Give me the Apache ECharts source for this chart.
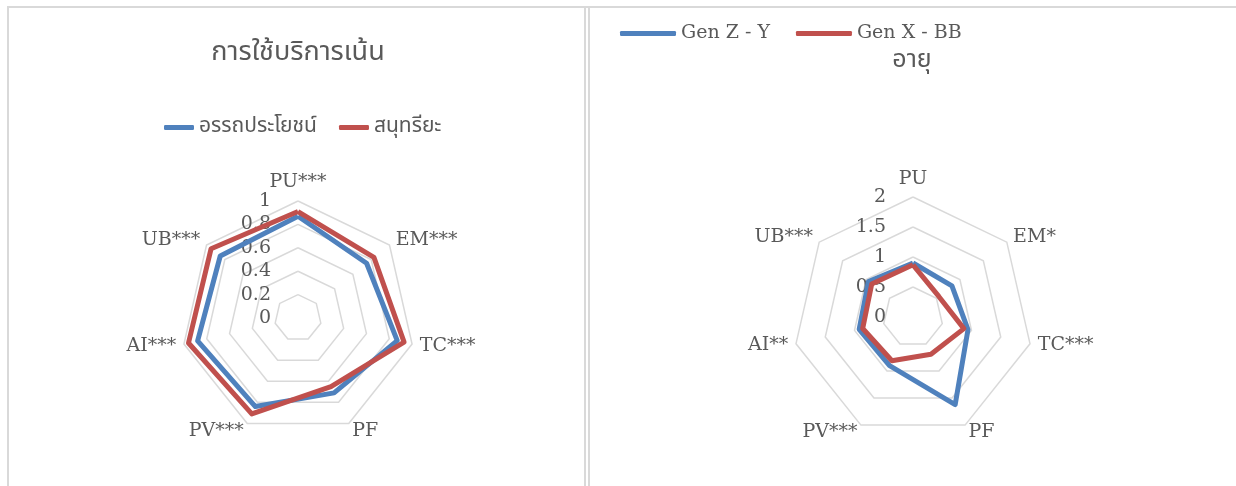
<!DOCTYPE html>
<html>
<head>
<meta charset="utf-8">
<script src="https://cdn.jsdelivr.net/npm/echarts@6/dist/echarts.min.js"></script>
<style>
html,body{margin:0;padding:0;background:#fff;}
#c{width:1236px;height:486px;}
</style>
</head>
<body>
<div id="c"></div>
<script>
// ---- data (axes listed clockwise from the top, as in the picture) ----
const axesLeft = ['PU***', 'EM***', 'TC***', 'PF', 'PV***', 'AI***', 'UB***'];
const axesRight = ['PU', 'EM*', 'TC***', 'PF', 'PV***', 'AI**', 'UB***'];
const utilitarian = [0.87, 0.75, 0.87, 0.71, 0.84, 0.88, 0.85];   // อรรถประโยชน์
const hedonic = [0.91, 0.83, 0.93, 0.65, 0.91, 0.96, 0.95];       // สนุทรียะ
const genZY = [0.90, 0.83, 0.94, 1.62, 0.90, 0.92, 0.95];         // Gen Z - Y
const genXBB = [0.87, 0.55, 0.87, 0.69, 0.81, 0.86, 0.88];        // Gen X - BB
const ticksLeft = { min: 0, max: 1, splitNumber: 5 };
const ticksRight = { min: 0, max: 2, splitNumber: 4 };

const BLUE = '#4f81bd', RED = '#c0504d', TXT = '#595959', GRID = '#d9d9d9';
const SERIF = '"DejaVu Serif", "Liberation Serif", serif';
const THAI = '"Noto Sans Thai", "Noto Sans", "DejaVu Sans", sans-serif';

// ECharts places indicators counter-clockwise; reorder so they run clockwise
const order = [0, 6, 5, 4, 3, 2, 1];
const cw = arr => order.map(i => arr[i]);

function indicators(names, t) {
  return cw(names).map((n, k) => {
    const o = { name: n, min: t.min, max: t.max };
    if (k === 0) o.axisLabel = { show: true };
    return o;
  });
}

function radar(center, radius, names, t) {
  return {
    center: center,
    radius: radius,
    startAngle: 90,
    shape: 'polygon',
    splitNumber: t.splitNumber,
    indicator: indicators(names, t),
    nameGap: 8,
    axisName: { color: TXT, fontFamily: SERIF, fontSize: 19 },
    axisLine: { show: false },
    axisTick: { show: false },
    splitArea: { show: false },
    splitLine: { lineStyle: { color: GRID, width: 1.5 } },
    axisLabel: {
      show: false, color: TXT, fontFamily: SERIF, fontSize: 19,
      margin: 27, align: 'right', verticalAlign: 'middle',
      formatter: v => String(+v.toFixed(2))
    }
  };
}

const lineSeries = (name, values, color, radarIndex) => ({
  type: 'radar',
  radarIndex: radarIndex,
  symbol: 'none',
  lineStyle: { color: color, width: 5, join: 'round' },
  itemStyle: { color: color },
  data: [{ name: name, value: cw(values) }]
});

const chart = echarts.init(document.getElementById('c'), null, { renderer: 'canvas' });
chart.setOption({
  animation: false,
  backgroundColor: '#fff',
  title: [
    { text: 'การใช้บริการเน้น', left: 293, top: 36, textAlign: 'center',
      textStyle: { color: TXT, fontFamily: THAI, fontSize: 27, fontWeight: 'normal' } },
    { text: 'อายุ', left: 907, top: 44, textAlign: 'center',
      textStyle: { color: TXT, fontFamily: THAI, fontSize: 25, fontWeight: 'normal' } }
  ],
  legend: [
    { data: ['อรรถประโยชน์', 'สนุทรียะ'], left: 159, top: 112, itemWidth: 30, itemHeight: 5,
      itemGap: 22, icon: 'roundRect',
      textStyle: { color: TXT, fontFamily: THAI, fontSize: 21 } },
    { data: ['Gen Z - Y', 'Gen X - BB'], left: 615, top: 19, itemWidth: 56, itemHeight: 5,
      itemGap: 26, icon: 'roundRect',
      textStyle: { color: TXT, fontFamily: SERIF, fontSize: 19 } }
  ],
  radar: [
    radar([298, 318], 117, axesLeft, ticksLeft),
    radar([913, 317], 120, axesRight, ticksRight)
  ],
  series: [
    lineSeries('อรรถประโยชน์', utilitarian, BLUE, 0),
    lineSeries('สนุทรียะ', hedonic, RED, 0),
    lineSeries('Gen Z - Y', genZY, BLUE, 1),
    lineSeries('Gen X - BB', genXBB, RED, 1)
  ],
  graphic: [
    { type: 'rect', shape: { x: 7, y: 6, width: 1229, height: 2 }, style: { fill: GRID }, silent: true },
    { type: 'rect', shape: { x: 7, y: 6, width: 2, height: 480 }, style: { fill: GRID }, silent: true },
    { type: 'rect', shape: { x: 584, y: 6, width: 2, height: 480 }, style: { fill: GRID }, silent: true },
    { type: 'rect', shape: { x: 588, y: 6, width: 2, height: 480 }, style: { fill: GRID }, silent: true }
  ]
});
</script>
</body>
</html>
